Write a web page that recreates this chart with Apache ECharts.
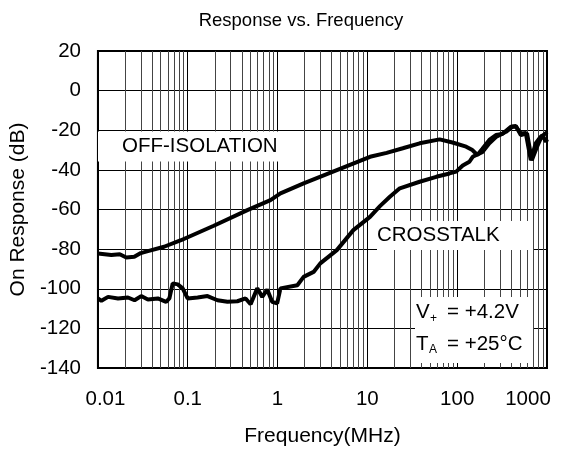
<!DOCTYPE html>
<html>
<head>
<meta charset="utf-8">
<script src="https://cdn.jsdelivr.net/npm/echarts@6/dist/echarts.min.js"></script>
<style>html,body{margin:0;padding:0;background:#fff;}#c{width:574px;height:453px;}</style>
</head>
<body>
<div id="c"></div>
<script>
// ---- data (frequency in MHz, response in dB) ----
var offIsoFreq = [0.01, 0.0141, 0.0175, 0.0207, 0.0254, 0.03, 0.036, 0.0545, 0.0841, 0.195, 0.461, 0.834, 1.077, 1.95, 4.57, 10.7, 16.4, 24.8, 38.2, 63.7, 88.7, 125.8, 147.7, 167.8, 190, 227.9, 270, 317.6, 396, 450, 511, 600, 677, 775, 887, 975, 1000];
var offIsoDb   = [-82.2, -83.0, -82.6, -84.2, -83.9, -82.0, -81.0, -78.8, -75.5, -68.2, -60.3, -55.3, -51.9, -46.8, -40.1, -33.4, -31.4, -29.1, -26.6, -24.6, -26.2, -28.3, -30.0, -32.5, -29.5, -24.9, -22.4, -21.9, -18.2, -17.9, -22.4, -21.6, -35.1, -28.3, -22.4, -25.8, -24.5];

var xtalkFreq = [0.01, 0.01093, 0.01297, 0.01674, 0.0216, 0.02556, 0.0303, 0.036, 0.0464, 0.0574, 0.0624, 0.068, 0.0773, 0.0878, 0.0997, 0.1287, 0.166, 0.2144, 0.2766, 0.357, 0.441, 0.501, 0.594, 0.675, 0.767, 0.871, 0.99, 1.077, 1.661, 1.95, 2.52, 2.99, 4.57, 6.98, 10.7, 13.8, 17.8, 22.96, 38.2, 58.5, 82.2, 97.5, 115.3, 136.8, 148.9, 192, 228, 270, 349, 413, 450, 511, 581, 660, 750, 851, 967, 1000];
var xtalkDb   = [-104.9, -106.1, -104.1, -104.9, -104.4, -105.8, -103.7, -105.4, -104.9, -106.6, -104.9, -97.3, -97.8, -99.8, -104.9, -104.4, -103.7, -105.8, -106.6, -106.3, -104.9, -107.8, -99.8, -104.1, -100.4, -106.6, -107.4, -99.8, -98.2, -94.0, -91.5, -87.2, -80.5, -70.4, -63.7, -58.3, -53.6, -49.3, -46.0, -43.5, -41.8, -40.9, -37.8, -35.9, -33.4, -30.9, -26.6, -23.4, -20.8, -18.2, -18.2, -21.6, -21.4, -35.1, -26.6, -23.3, -21.6, -21.0];

var xTickLabels = ['0.01', '0.1', '1', '10', '100', '1000'];
var yTickLabels = ['-140', '-120', '-100', '-80', '-60', '-40', '-20', '0', '20'];
var decades = [0.01, 0.1, 1, 10, 100];
var minorMultipliers = [2, 3, 4, 5, 6, 7, 8, 9];

function pairs(xs, ys) { return xs.map(function (x, i) { return [x, ys[i]]; }); }
var minorLines = [];
decades.forEach(function (d) {
  minorMultipliers.forEach(function (m) { minorLines.push({ xAxis: +(d * m).toPrecision(3) }); });
});

var FONT = 'Liberation Sans, Arial, sans-serif';
var chart = echarts.init(document.getElementById('c'), null, { renderer: 'canvas' });

function label(x, y, txt, size) {
  return { type: 'text', left: x, top: y, z: 100, zlevel: 1,
    style: { text: txt, fontSize: size, fontFamily: FONT, fill: '#000' } };
}
function box(x, y, w, h) {
  return { type: 'rect', z: 50, zlevel: 1, shape: { x: x, y: y, width: w, height: h }, style: { fill: '#fff' } };
}

chart.setOption({
  animation: false,
  backgroundColor: '#fff',
  title: {
    text: 'Response vs. Frequency', left: 296, top: 6, textAlign: 'center',
    textStyle: { fontFamily: FONT, fontSize: 18.5, fontWeight: 'normal', color: '#000' }
  },
  grid: { left: 97, right: 27, top: 51, bottom: 85, show: true, borderColor: '#000', borderWidth: 2, backgroundColor: 'transparent' },
  xAxis: {
    type: 'log', logBase: 10, min: 0.01, max: 1000,
    name: 'Frequency(MHz)', nameLocation: 'middle', nameGap: 58,
    nameTextStyle: { fontFamily: FONT, fontSize: 21, color: '#000' },
    axisLine: { show: false }, axisTick: { show: false },
    axisLabel: { margin: 21, fontFamily: FONT, fontSize: 20.5, color: '#000',
      rich: {
        first: { fontFamily: FONT, fontSize: 20.5, color: '#000', padding: [0, 0, 0, 15] },
        last: { fontFamily: FONT, fontSize: 20.5, color: '#000', padding: [0, 38, 0, 0] }
      },
      formatter: function (v, i) {
        var t = xTickLabels[i];
        if (t === undefined) return '';
        if (i === 0) return '{first|' + t + '}';
        if (i === xTickLabels.length - 1) return '{last|' + t + '}';
        return t;
      } },
    splitLine: { show: true, lineStyle: { color: '#000', width: 1 } }
  },
  yAxis: {
    type: 'value', min: -140, max: 20, interval: 20,
    name: 'On Response (dB)', nameLocation: 'middle', nameGap: 64,
    nameTextStyle: { fontFamily: FONT, fontSize: 21, color: '#000' },
    axisLine: { show: false }, axisTick: { show: false },
    axisLabel: { margin: 17, fontFamily: FONT, fontSize: 20.5, color: '#000',
      formatter: function (v, i) { return yTickLabels[i]; } },
    splitLine: { show: true, lineStyle: { color: '#000', width: 1 } }
  },
  graphic: [
    box(98, 131.5, 184, 30),
    box(377, 221, 156, 29),
    box(415, 297, 118, 66),
    label(122, 136, 'OFF-ISOLATION', 20.5),
    label(377, 225, 'CROSSTALK', 20.5),
    label(416, 302, 'V', 20.5),
    label(430, 313, '+', 12),
    label(447, 302, '= +4.2V', 20.5),
    label(416, 334, 'T', 20.5),
    label(429, 344, 'A', 12),
    label(447, 334, '= +25°C', 20.5)
  ],
  series: [
    { type: 'line', z: 1, data: [], silent: true,
      markLine: { silent: true, symbol: ['none', 'none'], label: { show: false },
        lineStyle: { color: '#444', width: 1, type: 'solid' }, data: minorLines, animation: false } },
    { name: 'OFF-ISOLATION', type: 'line', z: 8, symbol: 'none', data: pairs(offIsoFreq, offIsoDb),
      lineStyle: { color: '#000', width: 4 } },
    { name: 'CROSSTALK', type: 'line', z: 8, symbol: 'none', data: pairs(xtalkFreq, xtalkDb),
      lineStyle: { color: '#000', width: 4 } }
  ]
});
</script>
</body>
</html>
